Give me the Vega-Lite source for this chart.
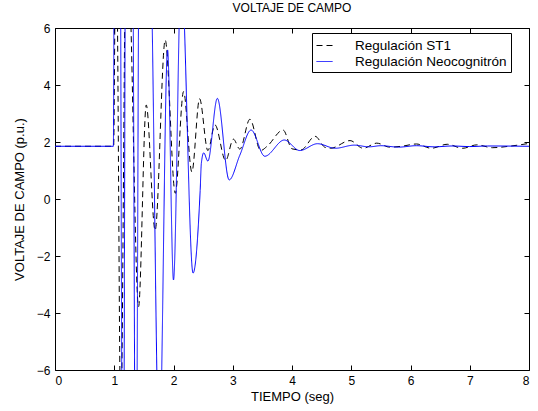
{
  "$schema": "https://vega.github.io/schema/vega-lite/v6.json",
  "width": 474,
  "height": 342,
  "autosize": {"type": "none"},
  "padding": {"left": 55, "top": 28, "right": 9, "bottom": 41},
  "background": "white",
  "title": {"text": "VOLTAJE DE CAMPO", "font": "Liberation Sans", "fontSize": 12, "fontWeight": "normal", "color": "black", "offset": 7},
  "config": {
    "view": {"stroke": "black", "strokeWidth": 1},
    "axis": {
      "domain": false, "grid": false, "tickColor": "black", "tickSize": -5, "tickWidth": 1,
      "labelColor": "black", "labelFont": "Liberation Sans", "labelFontSize": 12, "labelPadding": 10,
      "titleColor": "black", "titleFont": "Liberation Sans", "titleFontSize": 13, "titleFontWeight": "normal"
    },
    "legend": {
      "orient": "none", "legendX": 257, "legendY": 5, "strokeColor": "black", "fillColor": "white",
      "padding": 4, "labelFont": "Liberation Sans", "labelFontSize": 13.5, "labelColor": "black",
      "symbolType": "stroke", "symbolSize": 256, "symbolStrokeWidth": 1, "labelOffset": 22, "rowPadding": 1, "title": null
    }
  },
  "data": {"values": [
    {"t": 0, "v": 1.85, "s": "Regulación ST1"},
    {"t": 0.99, "v": 1.85, "s": "Regulación ST1"},
    {"t": 1.02, "v": 8, "s": "Regulación ST1"},
    {"t": 1.04, "v": 8, "s": "Regulación ST1"},
    {"t": 1.11, "v": -8, "s": "Regulación ST1"},
    {"t": 1.2, "v": 9, "s": "Regulación ST1"},
    {"t": 1.25, "v": 8, "s": "Regulación ST1"},
    {"t": 1.41, "v": -3.78, "s": "Regulación ST1"},
    {"t": 1.54, "v": 3.3, "s": "Regulación ST1"},
    {"t": 1.69, "v": -1.1, "s": "Regulación ST1"},
    {"t": 1.86, "v": 5.58, "s": "Regulación ST1"},
    {"t": 2.03, "v": 0.2, "s": "Regulación ST1"},
    {"t": 2.17, "v": 3.77, "s": "Regulación ST1"},
    {"t": 2.31, "v": 0.95, "s": "Regulación ST1"},
    {"t": 2.44, "v": 3.52, "s": "Regulación ST1"},
    {"t": 2.58, "v": 1.7, "s": "Regulación ST1"},
    {"t": 2.7, "v": 2.6, "s": "Regulación ST1"},
    {"t": 2.88, "v": 1.35, "s": "Regulación ST1"},
    {"t": 3.01, "v": 2.1, "s": "Regulación ST1"},
    {"t": 3.12, "v": 1.75, "s": "Regulación ST1"},
    {"t": 3.29, "v": 2.8, "s": "Regulación ST1"},
    {"t": 3.47, "v": 1.7, "s": "Regulación ST1"},
    {"t": 3.58, "v": 1.85, "s": "Regulación ST1"},
    {"t": 3.85, "v": 2.42, "s": "Regulación ST1"},
    {"t": 4.0, "v": 1.76, "s": "Regulación ST1"},
    {"t": 4.15, "v": 1.72, "s": "Regulación ST1"},
    {"t": 4.39, "v": 2.2, "s": "Regulación ST1"},
    {"t": 4.56, "v": 1.81, "s": "Regulación ST1"},
    {"t": 4.65, "v": 1.78, "s": "Regulación ST1"},
    {"t": 4.98, "v": 2.05, "s": "Regulación ST1"},
    {"t": 5.2, "v": 1.78, "s": "Regulación ST1"},
    {"t": 5.43, "v": 1.96, "s": "Regulación ST1"},
    {"t": 5.65, "v": 1.82, "s": "Regulación ST1"},
    {"t": 5.85, "v": 1.85, "s": "Regulación ST1"},
    {"t": 6.1, "v": 1.93, "s": "Regulación ST1"},
    {"t": 6.35, "v": 1.78, "s": "Regulación ST1"},
    {"t": 6.62, "v": 1.92, "s": "Regulación ST1"},
    {"t": 6.88, "v": 1.78, "s": "Regulación ST1"},
    {"t": 7.12, "v": 1.9, "s": "Regulación ST1"},
    {"t": 7.38, "v": 1.8, "s": "Regulación ST1"},
    {"t": 7.7, "v": 1.86, "s": "Regulación ST1"},
    {"t": 8.0, "v": 1.95, "s": "Regulación ST1"},
    {"t": 0, "v": 1.85, "s": "Regulación Neocognitrón"},
    {"t": 0.985, "v": 1.85, "s": "Regulación Neocognitrón"},
    {"t": 1.0, "v": 9, "s": "Regulación Neocognitrón"},
    {"t": 1.1, "v": 9, "s": "Regulación Neocognitrón"},
    {"t": 1.135, "v": -9, "s": "Regulación Neocognitrón"},
    {"t": 1.16, "v": -9, "s": "Regulación Neocognitrón"},
    {"t": 1.19, "v": 9, "s": "Regulación Neocognitrón"},
    {"t": 1.31, "v": 9, "s": "Regulación Neocognitrón"},
    {"t": 1.355, "v": -9, "s": "Regulación Neocognitrón"},
    {"t": 1.375, "v": -9, "s": "Regulación Neocognitrón"},
    {"t": 1.42, "v": 9, "s": "Regulación Neocognitrón"},
    {"t": 1.6, "v": 9, "s": "Regulación Neocognitrón"},
    {"t": 1.76, "v": -9, "s": "Regulación Neocognitrón"},
    {"t": 1.9, "v": 5.23, "s": "Regulación Neocognitrón"},
    {"t": 2.0, "v": -2.84, "s": "Regulación Neocognitrón"},
    {"t": 2.13, "v": 8, "s": "Regulación Neocognitrón"},
    {"t": 2.33, "v": -2.6, "s": "Regulación Neocognitrón"},
    {"t": 2.45, "v": 0.3, "s": "Regulación Neocognitrón"},
    {"t": 2.47, "v": 1.25, "s": "Regulación Neocognitrón"},
    {"t": 2.51, "v": 1.62, "s": "Regulación Neocognitrón"},
    {"t": 2.58, "v": 1.33, "s": "Regulación Neocognitrón"},
    {"t": 2.74, "v": 3.53, "s": "Regulación Neocognitrón"},
    {"t": 2.94, "v": 0.67, "s": "Regulación Neocognitrón"},
    {"t": 3.12, "v": 1.54, "s": "Regulación Neocognitrón"},
    {"t": 3.31, "v": 2.42, "s": "Regulación Neocognitrón"},
    {"t": 3.54, "v": 1.5, "s": "Regulación Neocognitrón"},
    {"t": 3.87, "v": 2.07, "s": "Regulación Neocognitrón"},
    {"t": 4.13, "v": 1.7, "s": "Regulación Neocognitrón"},
    {"t": 4.43, "v": 1.94, "s": "Regulación Neocognitrón"},
    {"t": 4.73, "v": 1.78, "s": "Regulación Neocognitrón"},
    {"t": 5.05, "v": 1.89, "s": "Regulación Neocognitrón"},
    {"t": 5.3, "v": 1.83, "s": "Regulación Neocognitrón"},
    {"t": 5.5, "v": 1.87, "s": "Regulación Neocognitrón"},
    {"t": 5.8, "v": 1.82, "s": "Regulación Neocognitrón"},
    {"t": 6.1, "v": 1.87, "s": "Regulación Neocognitrón"},
    {"t": 6.4, "v": 1.83, "s": "Regulación Neocognitrón"},
    {"t": 6.7, "v": 1.86, "s": "Regulación Neocognitrón"},
    {"t": 7.0, "v": 1.84, "s": "Regulación Neocognitrón"},
    {"t": 7.3, "v": 1.86, "s": "Regulación Neocognitrón"},
    {"t": 8.0, "v": 1.85, "s": "Regulación Neocognitrón"}
  ]},
  "layer": [
    {
      "mark": {"type": "line", "clip": true, "strokeWidth": 1, "interpolate": "monotone"},
      "encoding": {
        "x": {"field": "t", "type": "quantitative", "scale": {"domain": [0, 8], "nice": false},
              "axis": {"orient": "bottom", "values": [0,1,2,3,4,5,6,7,8], "title": "TIEMPO (seg)", "titlePadding": 4}},
        "y": {"field": "v", "type": "quantitative", "scale": {"domain": [-6, 6], "nice": false},
              "axis": {"orient": "left", "values": [-6,-4,-2,0,2,4,6], "title": "VOLTAJE DE CAMPO (p.u.)", "titlePadding": 10}},
        "color": {"field": "s", "type": "nominal",
                  "scale": {"domain": ["Regulación ST1", "Regulación Neocognitrón"], "range": ["black", "#0000ff"]}},
        "strokeDash": {"field": "s", "type": "nominal",
                  "scale": {"domain": ["Regulación ST1", "Regulación Neocognitrón"], "range": [[6, 4], [1, 0]]}}
      }
    },
    {
      "mark": {"type": "line", "opacity": 0, "clip": true},
      "encoding": {
        "x": {"field": "t", "type": "quantitative", "scale": {"domain": [0, 8], "nice": false},
              "axis": {"orient": "top", "values": [0,1,2,3,4,5,6,7,8], "labels": false, "title": null}},
        "y": {"field": "v", "type": "quantitative", "scale": {"domain": [-6, 6], "nice": false},
              "axis": {"orient": "right", "values": [-6,-4,-2,0,2,4,6], "labels": false, "title": null}},
        "detail": {"field": "s", "type": "nominal"}
      }
    }
  ],
  "resolve": {"axis": {"x": "independent", "y": "independent"}}
}
